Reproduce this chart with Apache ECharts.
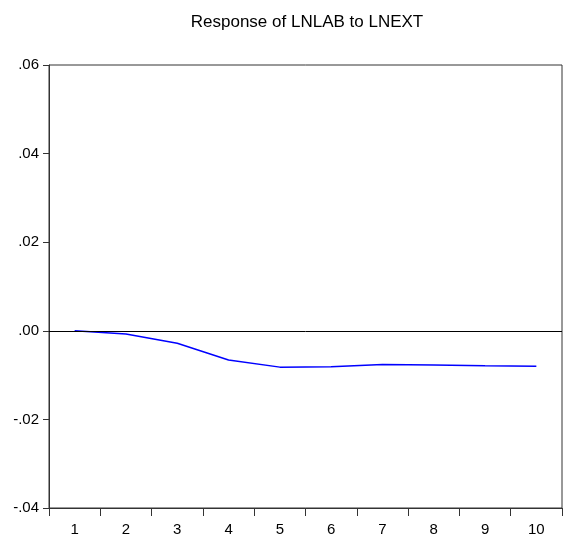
<!DOCTYPE html>
<html>
<head>
<meta charset="utf-8">
<script src="https://cdn.jsdelivr.net/npm/echarts@6/dist/echarts.min.js"></script>
<style>
  html, body { margin: 0; padding: 0; background: #fff; }
  #chart { width: 563px; height: 546px; }
</style>
</head>
<body>
<div id="chart"></div>
<script>
// periods and the impulse response
const periods = ['1', '2', '3', '4', '5', '6', '7', '8', '9', '10'];
const response = [0.0000, -0.0007, -0.0028, -0.0066, -0.0082, -0.0081, -0.0076, -0.0077, -0.0079, -0.0080];
const yMin = -0.04;
const yMax = 0.06;
const yStep = 0.02;

const fontFam = '"Liberation Sans", Arial, sans-serif';

// EViews style tick labels: .06, .00, -.02
const fmtTick = (v) => {
  const s = Math.abs(v).toFixed(2).replace(/^0/, '');
  return (v < -1e-9 ? '-' : '') + s;
};

const chart = echarts.init(document.getElementById('chart'));

const option = {
  animation: false,
  title: {
    text: 'Response of LNLAB to LNEXT',
    left: 302,
    textAlign: 'center',
    top: 9,
    textStyle: { fontFamily: fontFam, fontSize: 17, fontWeight: 'normal', color: '#000' }
  },
  grid: {
    left: 49, right: 1, top: 65, bottom: 38,
    show: true, borderColor: '#333', borderWidth: 1
  },
  xAxis: {
    type: 'category',
    data: periods,
    boundaryGap: true,
    axisLine: { onZero: false, lineStyle: { color: '#333', width: 1 } },
    axisTick: { show: true, length: 8, lineStyle: { color: '#333' } },
    axisLabel: { fontFamily: fontFam, fontSize: 15, color: '#000', margin: 14 },
    splitLine: { show: false }
  },
  yAxis: {
    type: 'value',
    min: yMin, max: yMax, interval: yStep,
    axisLine: { show: true, lineStyle: { color: '#333', width: 1 } },
    axisTick: { show: true, length: 6, lineStyle: { color: '#333' } },
    axisLabel: { fontFamily: fontFam, fontSize: 15, color: '#000', margin: 10, formatter: fmtTick },
    splitLine: { show: false }
  },
  series: [{
    type: 'line',
    data: response,
    symbol: 'none',
    lineStyle: { color: '#0000ff', width: 1.5 },
    markLine: {
      silent: true,
      symbol: 'none',
      label: { show: false },
      lineStyle: { color: '#000', width: 1, type: 'solid' },
      data: [{ yAxis: 0 }]
    }
  }]
};

chart.setOption(option);

window.addEventListener('resize', function () {
  chart.resize();
});
</script>
</body>
</html>
